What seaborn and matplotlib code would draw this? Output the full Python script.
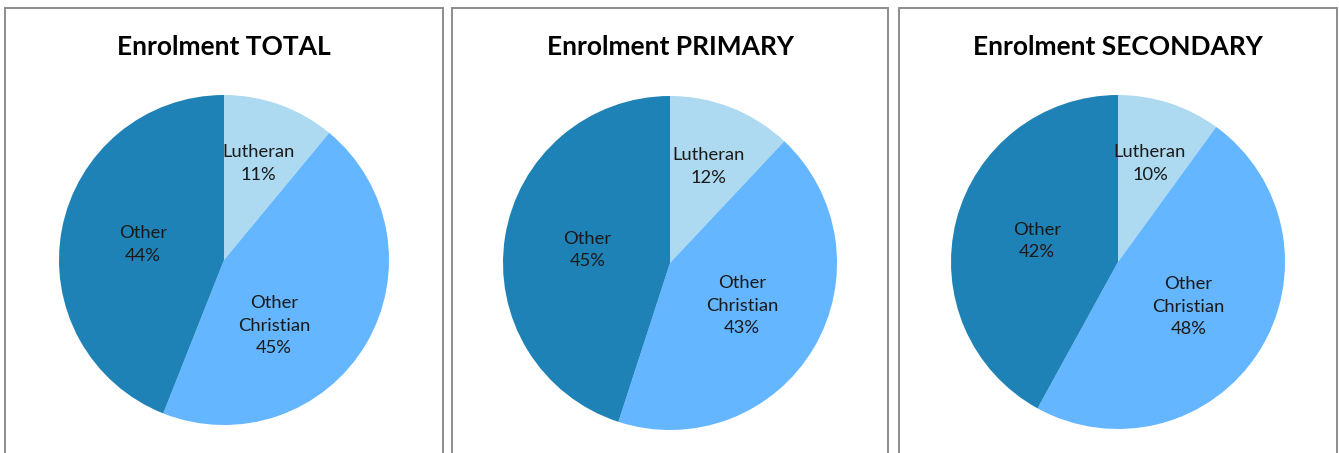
import matplotlib
matplotlib.use("Agg")
import matplotlib.pyplot as plt
import seaborn as sns
import numpy as np
from matplotlib.patches import Rectangle

# data
categories = ["Lutheran", "Other\nChristian", "Other"]
titles = ["Enrolment TOTAL", "Enrolment PRIMARY", "Enrolment SECONDARY"]
total = [11, 45, 44]
primary = [12, 43, 45]
secondary = [10, 48, 42]

sns.set_style("white")
plt.rcParams["font.family"] = ["Lato", "DejaVu Sans"]
colors = sns.color_palette(["#ADDAF0", "#63B6FF", "#1F82B6"])

W, H = 1339, 453
fig = plt.figure(figsize=(W / 100, H / 100), dpi=100)

# layout in pixels: pie centre, radius, panel box
centres = [(224, 260, 165), (670, 263, 167), (1118, 262, 167)]
boxes = [(5, 443), (452, 888), (899, 1337)]
label_r = [0.62, 0.5, 0.5]
angle_shift = [[0, -22, 0], [0, 0, 0], [0, 0, 0]]

for i, vals in enumerate([total, primary, secondary]):
    x0, x1 = boxes[i]
    fig.patches.append(Rectangle((x0 / W, -0.1), (x1 - x0) / W, (H - 8) / H + 0.1,
                                 transform=fig.transFigure, fill=False,
                                 edgecolor="#8c8c8c", linewidth=1.4))
    fig.text((x0 + x1) / 2 / W, 1 - 47 / H, titles[i], ha="center", va="center",
             fontsize=19, fontweight="bold", color="black")
    cx, cy, r = centres[i]
    ax = fig.add_axes([(cx - r) / W, (H - cy - r) / H, 2 * r / W, 2 * r / H])
    wedges, _ = ax.pie(vals, colors=colors, startangle=90, counterclock=False,
                       wedgeprops=dict(linewidth=0))
    ax.set_xlim(-1, 1)
    ax.set_ylim(-1, 1)
    for j, w in enumerate(wedges):
        ang = np.deg2rad((w.theta1 + w.theta2) / 2 + angle_shift[i][j])
        ax.text(label_r[j] * np.cos(ang), label_r[j] * np.sin(ang),
                f"{categories[j]}\n{vals[j]}%", ha="center", va="center",
                fontsize=13.2, linespacing=1.5, color="#1a1a1a")

fig.savefig("out.png", dpi=100)
